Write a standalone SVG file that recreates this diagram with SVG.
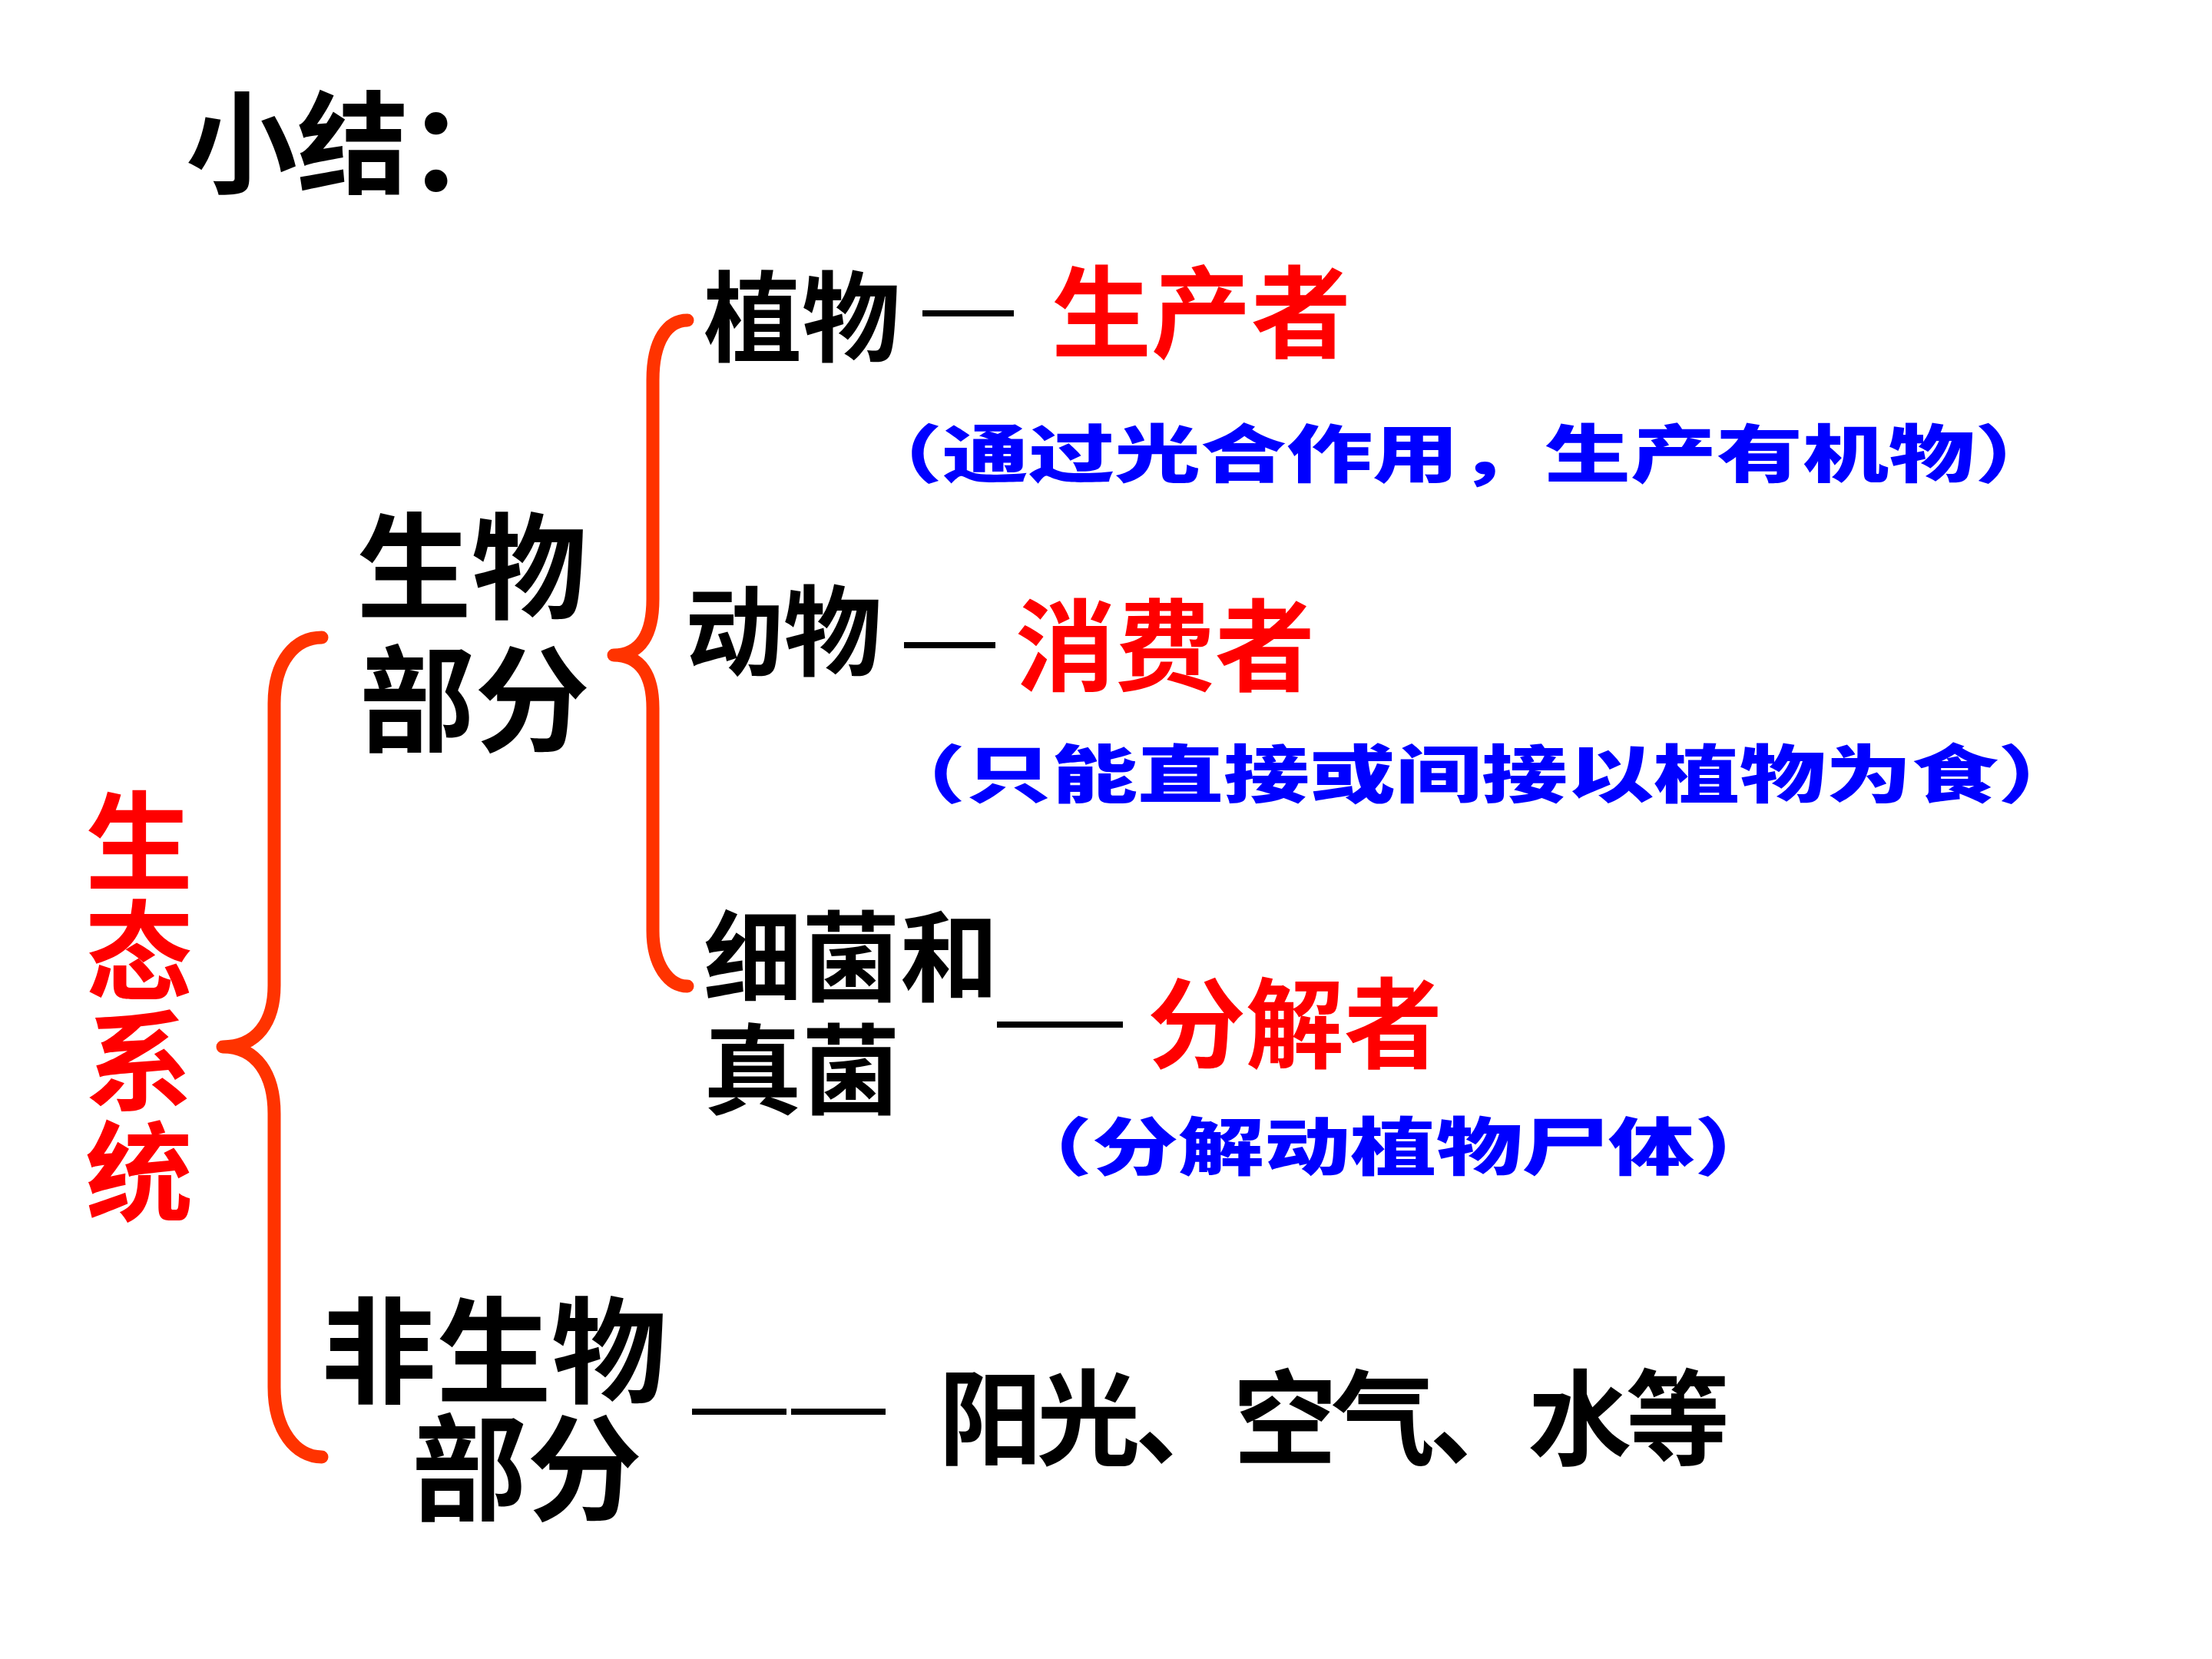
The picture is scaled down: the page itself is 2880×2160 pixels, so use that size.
<svg xmlns="http://www.w3.org/2000/svg" width="2880" height="2160" viewBox="0 0 2880 2160">
  <style>
    .cjk { font-family: "Noto Sans CJK SC", "Noto Sans CJK TC", sans-serif; font-weight: bold; }
    .blk { fill: #000000; }
    .red { fill: #FF0000; }
    .blue { fill: #0000FF; font-weight: 900; }
    .brace { fill: none; stroke: #FF3300; stroke-width: 17; stroke-linecap: round; stroke-linejoin: round; }
    .dash { stroke: #000000; stroke-width: 8; stroke-linecap: butt; }
  </style>
  <rect x="0" y="0" width="2880" height="2160" fill="#FFFFFF"/>

  <g id="title">
    <text class="cjk blk" x="242" y="241" font-size="145">小结</text>
    <text class="cjk blk" x="529" y="248" font-size="155">：</text>
  </g>

  <g id="ecosystem">
    <text class="cjk red" x="181" y="1148" font-size="140" text-anchor="middle">生</text>
    <text class="cjk red" x="181" y="1291" font-size="140" text-anchor="middle">态</text>
    <text class="cjk red" x="181" y="1434" font-size="140" text-anchor="middle">系</text>
    <text class="cjk red" x="181" y="1578" font-size="140" text-anchor="middle">统</text>
  </g>

  <g id="biotic">
    <text class="cjk blk" x="614" y="794" font-size="150" text-anchor="middle">生物</text>
    <text class="cjk blk" x="618" y="967" font-size="150" text-anchor="middle">部分</text>
  </g>

  <g id="abiotic">
    <text class="cjk blk" x="643" y="1815" font-size="150" text-anchor="middle">非生物</text>
    <text class="cjk blk" x="686" y="1968" font-size="150" text-anchor="middle">部分</text>
  </g>

  <g id="plants">
    <text class="cjk blk" x="1044" y="461" font-size="128" text-anchor="middle">植物</text>
  </g>
  <g id="producer">
    <text class="cjk red" x="1564" y="455" font-size="130" text-anchor="middle">生产者</text>
    <text class="cjk blue" x="1115" y="621" font-size="82" textLength="1568" lengthAdjust="spacingAndGlyphs">（通过光合作用，生产有机物）</text>
  </g>

  <g id="animals">
    <text class="cjk blk" x="1020" y="870" font-size="128" text-anchor="middle">动物</text>
  </g>
  <g id="consumer">
    <text class="cjk red" x="1517" y="889" font-size="130" text-anchor="middle">消费者</text>
    <text class="cjk blue" x="1145" y="1038" font-size="82" textLength="1568" lengthAdjust="spacingAndGlyphs">（只能直接或间接以植物为食）</text>
  </g>

  <g id="microbes">
    <text class="cjk blk" x="916" y="1294" font-size="128">细菌和</text>
    <text class="cjk blk" x="916" y="1441" font-size="128">真菌</text>
  </g>
  <g id="decomposer">
    <text class="cjk red" x="1686" y="1381" font-size="128" text-anchor="middle">分解者</text>
    <text class="cjk blue" x="1310" y="1523" font-size="82" textLength="1008" lengthAdjust="spacingAndGlyphs">（分解动植物尸体）</text>
  </g>

  <g id="abiotic-items">
    <text class="cjk blk" x="1222" y="1897" font-size="135" textLength="1030" lengthAdjust="spacing">阳光、空气、水等</text>
  </g>

  <g id="connectors">
    <path class="brace" d="M419,830 C385,830 357,860 357,916 L357,1283 C357,1330 335,1363 290,1363 C335,1363 357,1400 357,1450 L357,1806 C357,1862 385,1897 419,1897"/>
    <path class="brace" d="M895,417 C870,417 850,442 850,495 L850,780 C850,825 835,853 799,853 C835,853 850,880 850,922 L850,1212 C850,1255 870,1284 895,1284"/>
    <line class="dash" x1="1201" y1="408" x2="1320" y2="408"/>
    <line class="dash" x1="1177" y1="840" x2="1296" y2="840"/>
    <line class="dash" x1="1298" y1="1334" x2="1462" y2="1334"/>
    <line class="dash" x1="901" y1="1838" x2="1024" y2="1838" stroke-width="9"/>
    <line class="dash" x1="1030" y1="1838" x2="1153" y2="1838" stroke-width="9"/>
  </g>
</svg>
